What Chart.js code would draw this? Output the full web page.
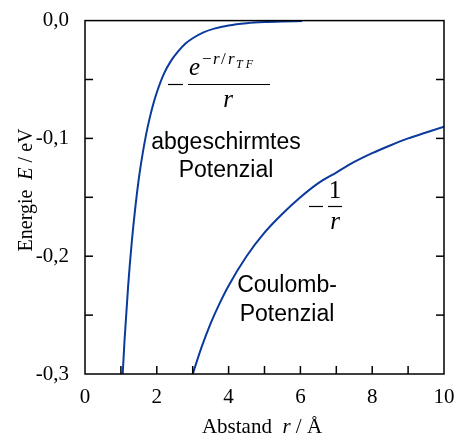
<!DOCTYPE html>
<html><head><meta charset="utf-8">
<script src="https://cdn.jsdelivr.net/npm/chart.js@4.4.0/dist/chart.umd.min.js"></script>
<style>html,body{margin:0;padding:0;background:#fff}#wrap{width:460px;height:441px}</style>
</head><body><div id="wrap"><canvas id="c" width="460" height="441"></canvas></div>
<script>
// Data
const rScreened = [1.0, 1.05, 1.1, 1.2, 1.3, 1.4, 1.5, 1.6, 1.7, 1.8, 1.9, 2.0, 2.2, 2.4, 2.6, 2.8, 3.0, 3.3, 3.6, 4.0, 4.5, 5.0, 5.5, 6.05];
const eScreened = [-0.331, -0.300, -0.272, -0.226, -0.189, -0.159, -0.134, -0.114, -0.097, -0.083, -0.071, -0.061, -0.045, -0.034, -0.026, -0.0195, -0.015, -0.010, -0.0068, -0.0041, -0.0022, -0.0012, -0.0007, -0.0004];
const rCoulomb = [2.98, 3.25, 3.5, 3.75, 4.0, 4.5, 5.0, 5.5, 6.0, 6.5, 7.0, 7.5, 8.0, 8.5, 9.0, 9.5, 10.0];
const eCoulomb = [-0.302, -0.277, -0.257, -0.240, -0.225, -0.200, -0.180, -0.164, -0.150, -0.138, -0.129, -0.120, -0.1125, -0.106, -0.100, -0.095, -0.090];
const xTickLabels = ['0', '2', '4', '6', '8', '10'];
const yTickLabels = ['0,0', '-0,1', '-0,2', '-0,3'];

const lineColor = '#0a3a9c';
const serif = '"Liberation Serif", "Times New Roman", serif';
const sans = '"Liberation Sans", Arial, sans-serif';

function pts(xs, ys){ return xs.map((x,i)=>({x:x, y:ys[i]})); }

const deco = {
  id: 'deco',
  afterDraw(chart){
    const ctx = chart.ctx, a = chart.chartArea;
    const xs = chart.scales.x, ys = chart.scales.y;
    ctx.save();
    // frame
    ctx.strokeStyle = '#000'; ctx.lineWidth = 1.5;
    ctx.strokeRect(a.left, a.top, a.right - a.left, a.bottom - a.top);
    // inward ticks
    const tl = 8;
    for (let v = 1; v < 10; v++){
      const px = xs.getPixelForValue(v);
      ctx.beginPath(); ctx.moveTo(px, a.bottom); ctx.lineTo(px, a.bottom - tl); ctx.stroke();
    }
    for (let k = 1; k < 6; k++){
      const py = ys.getPixelForValue(-0.05 * k);
      ctx.beginPath(); ctx.moveTo(a.left, py); ctx.lineTo(a.left + tl, py); ctx.stroke();
      ctx.beginPath(); ctx.moveTo(a.right, py); ctx.lineTo(a.right - tl, py); ctx.stroke();
    }
    ctx.fillStyle = '#000';
    // y title
    ctx.save();
    ctx.translate(32, 190);
    ctx.rotate(-Math.PI/2);
    ctx.textBaseline = 'alphabetic';
    const yParts = [['Energie  ', '20px ' + serif], ['E', 'italic 20px ' + serif], [' / eV', '20px ' + serif]];
    let tw = 0; yParts.forEach(p => { ctx.font = p[1]; tw += ctx.measureText(p[0]).width; });
    let cx = -tw/2;
    yParts.forEach(p => { ctx.font = p[1]; ctx.textAlign = 'left'; ctx.fillText(p[0], cx, 0); cx += ctx.measureText(p[0]).width; });
    ctx.restore();
    // x title
    const xParts = [['Abstand  ', '21px ' + serif], ['r', 'italic 21px ' + serif], [' / Å', '21px ' + serif]];
    tw = 0; xParts.forEach(p => { ctx.font = p[1]; tw += ctx.measureText(p[0]).width; });
    cx = 262 - tw/2;
    ctx.textBaseline = 'alphabetic'; ctx.textAlign = 'left';
    xParts.forEach(p => { ctx.font = p[1]; ctx.fillText(p[0], cx, 433); cx += ctx.measureText(p[0]).width; });

    // annotations (sans)
    ctx.font = '23px ' + sans; ctx.textAlign = 'center'; ctx.textBaseline = 'middle';
    ctx.fillText('abgeschirmtes', 226, 143);
    ctx.fillText('Potenzial', 226, 171);
    ctx.fillText('Coulomb-', 287, 286);
    ctx.fillText('Potenzial', 287, 315);

    // formula: - e^{-r/r_TF} / r
    ctx.lineWidth = 1.2;
    ctx.beginPath(); ctx.moveTo(168, 84.5); ctx.lineTo(183, 84.5); ctx.stroke();
    ctx.beginPath(); ctx.moveTo(188, 84.5); ctx.lineTo(270, 84.5); ctx.stroke();
    ctx.textBaseline = 'alphabetic'; ctx.textAlign = 'left';
    ctx.font = 'italic 25px ' + serif; ctx.fillText('e', 189, 75);
    ctx.font = '17px ' + serif; ctx.fillText('\u2212', 202, 64);
    ctx.font = 'italic 17px ' + serif; ctx.fillText('r', 213, 64);
    ctx.font = '17px ' + serif; ctx.fillText('/', 221, 64);
    ctx.font = 'italic 17px ' + serif; ctx.fillText('r', 228, 64);
    ctx.font = 'italic 12px ' + serif; ctx.fillText('T F', 236, 68);
    ctx.textAlign = 'center';
    ctx.font = 'italic 25px ' + serif; ctx.fillText('r', 228, 107);

    // formula: - 1 / r
    ctx.beginPath(); ctx.moveTo(309, 206.5); ctx.lineTo(323, 206.5); ctx.stroke();
    ctx.beginPath(); ctx.moveTo(328, 206.5); ctx.lineTo(342, 206.5); ctx.stroke();
    ctx.font = '25px ' + serif; ctx.fillText('1', 335, 198);
    ctx.font = 'italic 25px ' + serif; ctx.fillText('r', 335, 229);
    ctx.restore();
  }
};

new Chart(document.getElementById('c'), {
  type: 'scatter',
  data: { datasets: [
    { label: 'screened', data: pts(rScreened, eScreened), showLine: true, borderColor: lineColor, borderWidth: 2, pointRadius: 0, cubicInterpolationMode: 'monotone', fill: false },
    { label: 'coulomb', data: pts(rCoulomb, eCoulomb), showLine: true, borderColor: lineColor, borderWidth: 2, pointRadius: 0, cubicInterpolationMode: 'monotone', fill: false }
  ]},
  options: {
    responsive: false, animation: false, devicePixelRatio: 1,
    layout: { padding: { left: 0, top: 14, right: 16, bottom: 0 } },
    plugins: { legend: { display: false }, tooltip: { enabled: false } },
    scales: {
      x: { type: 'linear', min: 0, max: 10, border: { display: false }, grid: { display: false },
           afterFit: s => { s.height = 67; },
           afterBuildTicks: s => { s.ticks = xTickLabels.map(t => ({ value: Number(t) })); },
           ticks: { autoSkip: false, maxRotation: 0, padding: 3, color: '#000', font: { family: serif, size: 21 },
                    callback: (v, i) => xTickLabels[i] } },
      y: { type: 'linear', min: -0.3, max: 0, border: { display: false }, grid: { display: false },
           afterFit: s => { s.width = 85; },
           afterBuildTicks: s => { s.ticks = yTickLabels.map((t, i) => ({ value: -0.1 * i })); },
           ticks: { autoSkip: false, padding: 8, color: '#000', font: { family: serif, size: 21 },
                    callback: (v, i) => yTickLabels[i] } }
    }
  },
  plugins: [deco]
});
</script></body></html>
